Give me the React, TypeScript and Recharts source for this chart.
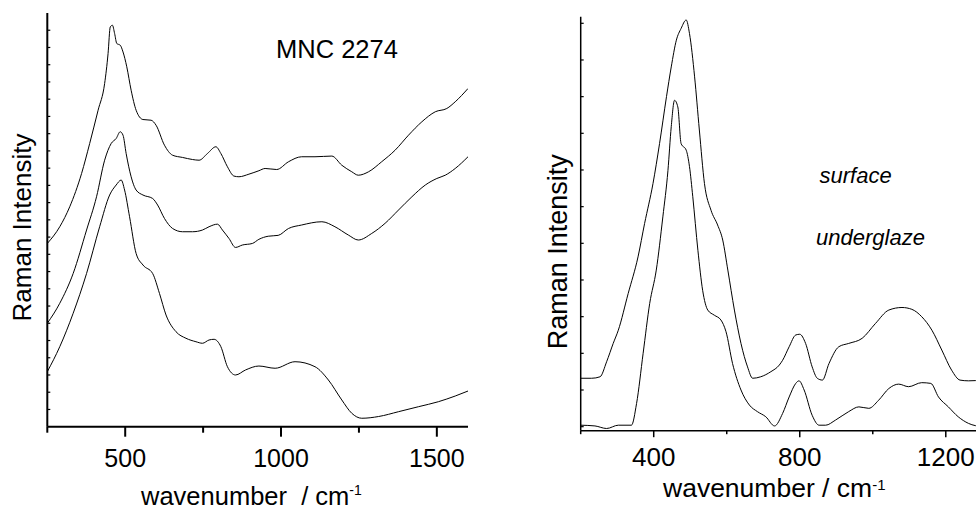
import React from "react";
import { Line, LineChart, XAxis, YAxis } from "recharts";

const FONT = "'Liberation Sans', Arial, Helvetica, sans-serif";

// left panel (MNC 2274): three stacked spectra, wavenumber / offset intensity
const topWn = [250, 290, 322, 360, 386, 413, 434, 445, 452, 459, 466, 473, 484, 493, 505, 519, 535, 557, 583, 599, 626, 652, 684, 716, 737, 764, 791, 807, 828, 849, 865, 897, 929, 949, 986, 1024, 1066, 1109, 1163, 1195, 1227, 1248, 1281, 1323, 1366, 1409, 1452, 1495, 1532, 1559, 1600];
const topI = [10.63, 11.6, 12.76, 14.69, 16.43, 18.36, 19.91, 21.65, 23.19, 23.29, 22.81, 22.23, 22.13, 21.74, 20.88, 19.52, 18.36, 17.82, 17.78, 17.49, 16.33, 15.75, 15.62, 15.5, 15.46, 15.85, 16.24, 15.85, 15.08, 14.54, 14.5, 14.65, 14.85, 14.98, 14.92, 15.37, 15.66, 15.66, 15.7, 15.17, 14.79, 14.59, 14.79, 15.37, 16.04, 16.91, 17.69, 18.27, 18.46, 18.85, 19.62];

const midWn = [250, 290, 333, 376, 408, 434, 455, 471, 484, 493, 503, 519, 535, 557, 588, 604, 626, 652, 684, 716, 748, 769, 796, 812, 833, 854, 876, 908, 929, 959, 991, 1024, 1066, 1131, 1173, 1216, 1248, 1291, 1334, 1377, 1420, 1463, 1500, 1527, 1559, 1600];
const midI = [6.0, 7.16, 8.89, 11.41, 13.34, 15.46, 16.43, 16.72, 17.11, 16.91, 15.85, 14.5, 13.73, 13.44, 13.24, 12.86, 12.08, 11.5, 11.31, 11.31, 11.41, 11.6, 11.75, 11.41, 10.92, 10.4, 10.54, 10.63, 10.87, 11.05, 11.1, 11.5, 11.7, 11.89, 11.6, 11.12, 10.83, 11.21, 11.8, 12.57, 13.34, 14.02, 14.4, 14.59, 14.98, 15.66];

const lowWn = [250, 290, 333, 376, 418, 450, 471, 487, 498, 514, 535, 557, 588, 610, 631, 663, 695, 727, 748, 769, 785, 807, 828, 854, 886, 929, 981, 1045, 1109, 1152, 1195, 1227, 1259, 1313, 1377, 1441, 1505, 1559, 1600];
const lowI = [3.19, 4.64, 6.58, 8.89, 11.6, 13.44, 14.02, 14.31, 13.73, 12.18, 10.05, 9.38, 8.89, 7.73, 6.48, 5.51, 5.13, 4.93, 4.84, 5.03, 5.07, 4.64, 3.48, 3.0, 3.29, 3.52, 3.39, 3.77, 3.48, 2.71, 1.55, 0.78, 0.49, 0.59, 0.87, 1.16, 1.45, 1.78, 2.07];

const leftXTicks = [250, 500, 750, 1000, 1250, 1500];
const leftXLabels = [500, 1000, 1500];
const leftYTicks = [1, 2, 3, 4, 5, 6, 7, 8, 9, 10, 11, 12, 13, 14, 15, 16, 17, 18, 19, 20, 21, 22, 23];

// right panel: surface and underglaze spectra
const surfWn = [200, 230, 253, 271, 289, 303, 330, 357, 375, 398, 416, 435, 448, 462, 475, 489, 498, 512, 525, 539, 557, 575, 589, 603, 621, 639, 657, 671, 693, 721, 744, 753, 771, 789, 800, 816, 834, 848, 862, 880, 907, 934, 971, 1007, 1044, 1080, 1107, 1134, 1162, 1189, 1216, 1239, 1262, 1300];
const surfI = [1.32, 1.32, 1.36, 1.77, 2.27, 2.63, 3.63, 4.63, 5.54, 6.63, 7.72, 9.0, 9.81, 10.54, 10.86, 11.09, 10.72, 9.54, 8.09, 6.63, 5.9, 5.5, 5.09, 4.27, 3.18, 2.27, 1.63, 1.32, 1.36, 1.5, 1.68, 1.81, 2.18, 2.5, 2.52, 2.27, 1.63, 1.32, 1.27, 1.72, 2.18, 2.27, 2.41, 2.81, 3.18, 3.25, 3.2, 3.0, 2.63, 2.09, 1.54, 1.27, 1.25, 1.27];

const ugWn = [200, 239, 271, 303, 339, 353, 371, 389, 407, 425, 439, 448, 457, 466, 475, 489, 498, 507, 521, 534, 548, 566, 584, 598, 616, 639, 662, 684, 707, 731, 753, 771, 789, 798, 812, 834, 853, 871, 898, 934, 962, 989, 1016, 1044, 1071, 1098, 1134, 1159, 1180, 1207, 1234, 1262, 1300];
const ugI = [0.04, 0.02, -0.05, 0.04, 0.04, 0.63, 2.0, 3.36, 4.27, 5.72, 6.99, 8.18, 8.9, 8.72, 7.72, 7.54, 7.09, 6.27, 4.81, 3.72, 3.18, 3.04, 2.91, 2.59, 1.72, 1.0, 0.59, 0.41, 0.27, 0.02, 0.36, 0.81, 1.18, 1.25, 1.0, 0.31, 0.04, 0.04, 0.18, 0.41, 0.54, 0.5, 0.72, 1.04, 1.16, 1.09, 1.2, 1.18, 0.81, 0.54, 0.27, 0.09, 0.0];

const rightXTicks = [200, 400, 600, 800, 1000, 1200];
const rightXLabels = [400, 800, 1200];
const rightYTicks = [0, 1, 2, 3, 4, 5, 6, 7, 8, 9, 10, 11];

const toPoints = (wn: number[], inten: number[]) =>
  wn.map((w, i) => ({ wn: w, v: inten[i] }));

// bottom ticks point outward, only the major ones carry a label
const makeXTick =
  (labels: number[], majorLen: number, minorLen: number, width: number, fontSize: number, gap: number) =>
  (props: any) => {
    const { x, y, payload } = props;
    const major = labels.includes(payload.value);
    return (
      <g>
        <line x1={x} x2={x} y1={y} y2={y + (major ? majorLen : minorLen)} stroke="#000" strokeWidth={width} />
        {major && (
          <text x={x} y={y + gap} textAnchor="middle" fontSize={fontSize} fontFamily={FONT} fill="#000">
            {payload.value}
          </text>
        )}
      </g>
    );
  };

// left ticks point into the plot, no labels
const makeYTick = (len: number) => (props: any) => {
  const { x, y } = props;
  return <line x1={x} x2={x + len} y1={y} y2={y} stroke="#000" strokeWidth={1.2} />;
};

const LeftPanel = () => (
  <LineChart width={490} height={512} margin={{ top: 13, right: 22, bottom: 84.3, left: 46.3 }}>
    <XAxis
      type="number"
      dataKey="wn"
      domain={[250, 1600]}
      ticks={leftXTicks}
      interval={0}
      height={1}
      tickSize={0}
      tickMargin={0}
      tickLine={false}
      axisLine={{ stroke: "#000", strokeWidth: 2 }}
      tick={makeXTick(leftXLabels, 10, 6, 2, 25, 40)}
      allowDataOverflow
    />
    <YAxis
      type="number"
      domain={[0, 24]}
      ticks={leftYTicks}
      interval={0}
      width={1}
      tickSize={0}
      tickMargin={0}
      tickLine={false}
      tick={makeYTick(3)}
      axisLine={{ stroke: "#000", strokeWidth: 2 }}
      allowDataOverflow
    />
    <Line data={toPoints(topWn, topI)} dataKey="v" type="monotone" stroke="#000" strokeWidth={1} dot={false} isAnimationActive={false} />
    <Line data={toPoints(midWn, midI)} dataKey="v" type="monotone" stroke="#000" strokeWidth={1} dot={false} isAnimationActive={false} />
    <Line data={toPoints(lowWn, lowI)} dataKey="v" type="monotone" stroke="#000" strokeWidth={1} dot={false} isAnimationActive={false} />
  </LineChart>
);

const RightPanel = () => (
  <LineChart width={500} height={512} margin={{ top: 16.7, right: 7.7, bottom: 80.3, left: 89.7 }}>
    <XAxis
      type="number"
      dataKey="wn"
      domain={[200, 1300]}
      ticks={rightXTicks}
      interval={0}
      height={1}
      tickSize={0}
      tickMargin={0}
      tickLine={false}
      axisLine={{ stroke: "#000", strokeWidth: 1.5 }}
      tick={makeXTick(rightXLabels, 6.5, 3.5, 1.5, 26, 35.3)}
      allowDataOverflow
    />
    <YAxis
      type="number"
      domain={[-0.11, 11.18]}
      ticks={rightYTicks}
      interval={0}
      width={1}
      tickSize={0}
      tickMargin={0}
      tickLine={false}
      tick={makeYTick(3)}
      axisLine={{ stroke: "#000", strokeWidth: 1.5 }}
      allowDataOverflow
    />
    <Line data={toPoints(surfWn, surfI)} dataKey="v" type="monotone" stroke="#000" strokeWidth={1} dot={false} isAnimationActive={false} />
    <Line data={toPoints(ugWn, ugI)} dataKey="v" type="monotone" stroke="#000" strokeWidth={1} dot={false} isAnimationActive={false} />
  </LineChart>
);

export default function App() {
  return (
    <div style={{ position: "absolute", left: 0, top: 0, width: 976, height: 512, overflow: "hidden", background: "#fff" }}>
      <div style={{ position: "absolute", left: 0, top: 0 }}>
        <LeftPanel />
      </div>
      <div style={{ position: "absolute", left: 490, top: 0 }}>
        <RightPanel />
      </div>
      <svg width={976} height={512} style={{ position: "absolute", left: 0, top: 0, pointerEvents: "none" }}>
        <g fontFamily={FONT} fill="#000">
          {/* left panel titles */}
          <text x={276} y={58} fontSize={25.5}>MNC 2274</text>
          <text transform="translate(30.5,227.5) rotate(-90)" textAnchor="middle" fontSize={26}>Raman Intensity</text>
          <text x={141} y={505} fontSize={25.5} style={{ whiteSpace: "pre" }}>
            {"wavenumber  / cm"}
            <tspan dy={-10} fontSize={14}>-1</tspan>
          </text>
          {/* right panel titles */}
          <text transform="translate(567,251.7) rotate(-90)" textAnchor="middle" fontSize={27}>Raman Intensity</text>
          <text x={663} y={496.7} fontSize={26.5} style={{ whiteSpace: "pre" }}>
            {"wavenumber / cm"}
            <tspan dy={-7} fontSize={15}>-1</tspan>
          </text>
          <text x={819.5} y={183} fontSize={22} fontStyle="italic">surface</text>
          <text x={816} y={245} fontSize={22} fontStyle="italic">underglaze</text>
        </g>
      </svg>
    </div>
  );
}
